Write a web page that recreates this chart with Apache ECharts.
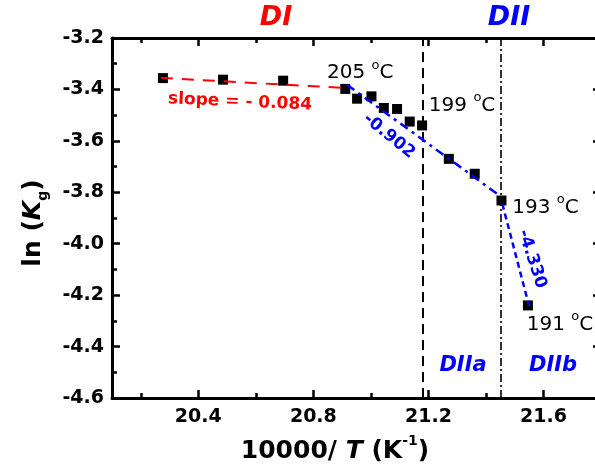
<!DOCTYPE html>
<html><head><meta charset="utf-8">
<script src="https://cdn.jsdelivr.net/npm/echarts@6/dist/echarts.min.js"></script>
<style>html,body{margin:0;padding:0;background:#fff}#c{width:595px;height:476px}</style>
</head><body><div id="c"></div>
<script>
// ---- data ----
const xValues = [20.277, 20.486, 20.695, 20.911, 20.952, 21.002, 21.045, 21.091, 21.135, 21.178, 21.271, 21.361, 21.454, 21.546];
const yValues = [-3.356, -3.362, -3.366, -3.398, -3.436, -3.427, -3.472, -3.476, -3.525, -3.540, -3.670, -3.728, -3.832, -4.240];
const pointTemps = {3: '205', 9: '199', 12: '193', 13: '191'};
const fitDIx = [20.27, 20.92];
const fitDIy = [-3.355, -3.395];
const fitDIIax = [20.917, 21.454];
const fitDIIay = [-3.382, -3.818];
const fitDIIbx = [21.457, 21.55];
const fitDIIby = [-3.845, -4.242];
const boundaries = [21.178, 21.454];
const xMajorTicks = [20.4, 20.8, 21.2, 21.6];
const xMinorTicks = [20.2, 20.6, 21.0, 21.4, 21.8];
const slopeTexts = ['slope = - 0.084', '-0.902', '-4.330'];
const regionTexts = ['DI', 'DII', 'DIIa', 'DIIb'];

// ---- styling ----
const FONT = 'DejaVu Sans';
const RED = '#FF0000', BLUE = '#0000FF';
const labelOffsets = {3: [15, -18], 9: [40, -22], 12: [44, 5], 13: [32, 17]};

const chart = echarts.init(document.getElementById('c'), null, {renderer: 'canvas'});

function xAx(pos, ticks, len, showLine, showLabel) {
  return {
    type: 'value', min: 20.1, max: 21.8, position: pos, gridIndex: 0,
    axisLine: {show: showLine, onZero: false, lineStyle: {color: '#000', width: 3}},
    axisTick: {show: true, inside: true, length: len, customValues: ticks, lineStyle: {color: '#000', width: 2.5}},
    axisLabel: {show: showLabel, customValues: ticks, margin: 10, color: '#000', fontFamily: FONT, fontWeight: 'bold', fontSize: 19,
      formatter: v => Number(v).toFixed(1)},
    splitLine: {show: false}
  };
}
function yAx(pos, showLabel) {
  return {
    type: 'value', min: -4.6, max: -3.2, interval: 0.2, position: pos, gridIndex: 0,
    axisLine: {show: true, onZero: false, lineStyle: {color: '#000', width: 3}},
    axisTick: {show: true, inside: true, length: 8, lineStyle: {color: '#000', width: 2.5}},
    minorTick: {show: true, splitNumber: 2, length: 5, lineStyle: {color: '#000', width: 2.5}},
    axisLabel: {show: showLabel, margin: 8, color: '#000', fontFamily: FONT, fontWeight: 'bold', fontSize: 19,
      formatter: v => Number(v).toFixed(1)},
    splitLine: {show: false}
  };
}

const pointData = xValues.map((x, i) => {
  const item = {value: [x, yValues[i]]};
  if (pointTemps[i]) {
    item.label = {
      show: true, position: 'inside', offset: labelOffsets[i], align: 'center', verticalAlign: 'middle',
      opacity: 1,
      formatter: '{a|' + pointTemps[i] + ' }{s|o}{a|C}',
      rich: {
        a: {fontFamily: FONT, fontSize: 20, color: '#000', lineHeight: 24, verticalAlign: 'bottom'},
        s: {fontFamily: FONT, fontSize: 13, color: '#000', lineHeight: 13, verticalAlign: 'top'}
      }
    };
  }
  return item;
});
const zip = (xs, ys) => xs.map((x, i) => [x, ys[i]]);

const fitLine = (xs, ys, color, dash, width) => ({
  type: 'line', data: zip(xs, ys), symbol: 'none', z: 5, silent: true,
  lineStyle: {color: color, width: width, type: dash}
});

function gText(text, x, y, opts) {
  return Object.assign({type: 'text', x: x, y: y, silent: true, z: 100,
    style: Object.assign({text: text, align: 'center', verticalAlign: 'middle', fontFamily: FONT}, opts.style)},
    opts.rotation !== undefined ? {rotation: opts.rotation} : {});
}
const deg = d => d * Math.PI / 180;

const option = {
  animation: false,
  backgroundColor: '#fff',
  grid: {left: 112, top: 38, width: 489, height: 360, containLabel: false, outerBoundsMode: 'none'},
  xAxis: [
    xAx('bottom', xMajorTicks, 8, true, true),
    xAx('bottom', xMinorTicks, 5, false, false),
    xAx('top', xMajorTicks, 8, true, false),
    xAx('top', xMinorTicks, 5, false, false)
  ],
  yAxis: [yAx('left', true), yAx('right', false)],
  series: [
    {
      type: 'scatter', data: pointData, symbol: 'rect', symbolSize: 10, z: 3,
      itemStyle: {color: '#000', opacity: 1},
      markLine: {
        silent: true, symbol: 'none', label: {show: false},
        data: [
          {xAxis: boundaries[0], lineStyle: {color: '#000', width: 2, type: [10, 6]}},
          {xAxis: boundaries[1], lineStyle: {color: '#000', width: 1.6, type: [8, 3, 2, 3]}}
        ]
      }
    },
    fitLine(fitDIx, fitDIy, RED, [12, 9], 2),
    fitLine(fitDIIax, fitDIIay, BLUE, [9, 5, 3, 5], 2.5),
    fitLine(fitDIIbx, fitDIIby, BLUE, [6, 4], 2.5)
  ],
  graphic: [
    // axis names
    gText('{b|10000/ }{i|T}{b| (K}{s|-1}{b|)}', 335, 449, {style: {rich: {
      b: {fontFamily: FONT, fontWeight: 'bold', fontSize: 25, color: '#000', lineHeight: 30, verticalAlign: 'bottom'},
      i: {fontFamily: FONT, fontWeight: 'bold', fontStyle: 'italic', fontSize: 25, color: '#000', lineHeight: 30, verticalAlign: 'bottom'},
      s: {fontFamily: FONT, fontWeight: 'bold', fontSize: 14, color: '#000', lineHeight: 14, verticalAlign: 'top'}
    }}}),
    gText('{b|ln (}{i|K}{s|g}{b|)}', 33, 223, {rotation: deg(90), style: {rich: {
      b: {fontFamily: FONT, fontWeight: 'bold', fontSize: 25, color: '#000', lineHeight: 34, verticalAlign: 'middle'},
      i: {fontFamily: FONT, fontWeight: 'bold', fontStyle: 'italic', fontSize: 25, color: '#000', lineHeight: 34, verticalAlign: 'middle'},
      s: {fontFamily: FONT, fontWeight: 'bold', fontSize: 14, color: '#000', lineHeight: 14, verticalAlign: 'bottom'}
    }}}),
    // region labels
    gText(regionTexts[0], 276, 18, {style: {fill: RED, fontSize: 27, fontWeight: 'bold', fontStyle: 'italic'}}),
    gText(regionTexts[1], 509, 18, {style: {fill: BLUE, fontSize: 27, fontWeight: 'bold', fontStyle: 'italic'}}),
    gText(regionTexts[2], 463, 366, {style: {fill: BLUE, fontSize: 21, fontWeight: 'bold', fontStyle: 'italic'}}),
    gText(regionTexts[3], 553, 366, {style: {fill: BLUE, fontSize: 21, fontWeight: 'bold', fontStyle: 'italic'}}),
    // slope labels
    gText(slopeTexts[0], 240, 102, {rotation: deg(-2.5), style: {fill: RED, fontSize: 17, fontWeight: 'bold'}}),
    gText(slopeTexts[1], 389, 136, {rotation: deg(-39), style: {fill: BLUE, fontSize: 17, fontWeight: 'bold'}}),
    gText(slopeTexts[2], 532, 259, {rotation: deg(-72), style: {fill: BLUE, fontSize: 17, fontWeight: 'bold'}})
  ]
};
chart.setOption(option);
</script>
</body></html>
